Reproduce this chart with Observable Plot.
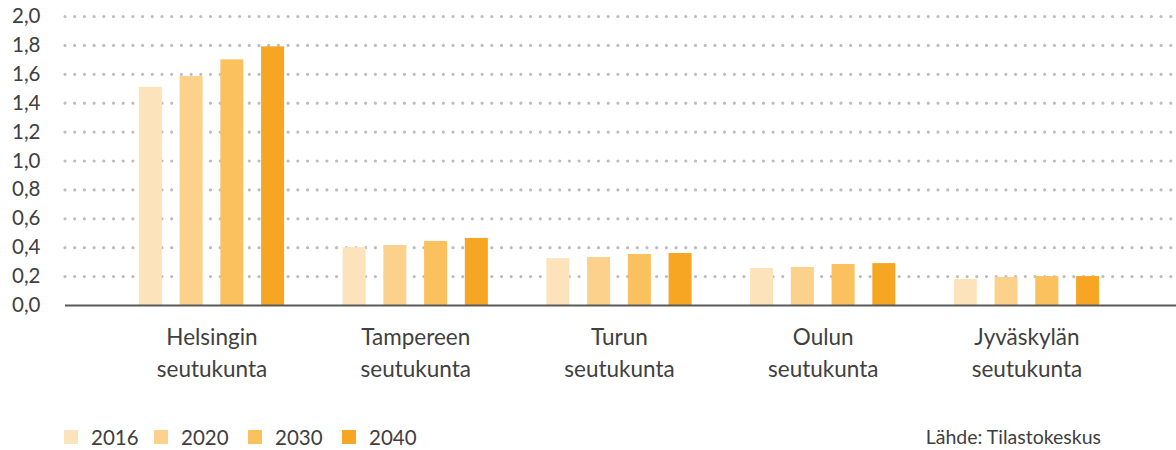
<!DOCTYPE html>
<html>
<head>
<meta charset="utf-8">
<script src="https://cdn.jsdelivr.net/npm/d3@7"></script>
<script src="https://cdn.jsdelivr.net/npm/@observablehq/plot@0.6"></script>
<style>
  html, body { margin: 0; padding: 0; background: #fff; }
  body { width: 1176px; height: 450px; overflow: hidden; font-family: Lato, "Open Sans", sans-serif; color: #404040; }
  #legend { position: relative; height: 50px; }
  .item { position: absolute; top: 25px; display: flex; align-items: center; font-size: 20.5px; line-height: 24px; }
  .sw { width: 14px; height: 14px; margin-right: 13px; }
  #source { position: absolute; right: 75px; top: 25px; font-size: 19.5px; line-height: 24px; }
</style>
</head>
<body>
<div id="chart"></div>
<div id="legend"></div>
<script>
const regionLine1 = ["Helsingin", "Tampereen", "Turun", "Oulun", "Jyväskylän"];
const regionLine2 = ["seutukunta", "seutukunta", "seutukunta", "seutukunta", "seutukunta"];
const years = ["2016", "2020", "2030", "2040"];
const v2016 = [1.51, 0.40, 0.325, 0.256, 0.18];
const v2020 = [1.585, 0.415, 0.332, 0.263, 0.194];
const v2030 = [1.70, 0.443, 0.353, 0.284, 0.20];
const v2040 = [1.79, 0.464, 0.36, 0.29, 0.20];
const colors = ["#fde3bb", "#fcd18c", "#fbc15e", "#f6a623"];
const yTicks = [0, 0.2, 0.4, 0.6, 0.8, 1.0, 1.2, 1.4, 1.6, 1.8, 2.0];
const sourceText = "Lähde: Tilastokeskus";

const series = [v2016, v2020, v2030, v2040];
const data = [];
series.forEach((vals, j) => vals.forEach((v, i) => {
  const c = i + (j - 1.5) * 0.2;
  data.push({region: i, year: years[j], x1: c - 0.0565, x2: c + 0.0565, value: v});
}));
const labels = regionLine1.map((l, i) => ({i, l1: l, l2: regionLine2[i]}));
const fmt = d => d.toFixed(1).replace(".", ",");

const plot = Plot.plot({
  width: 1176,
  height: 400,
  marginLeft: 65,
  marginRight: 0,
  marginTop: 16,
  marginBottom: 95,
  style: {fontFamily: "Lato, 'Open Sans', sans-serif", background: "#fff", overflow: "visible"},
  x: {domain: [-0.719, 4.734], axis: null},
  y: {domain: [0, 2], axis: null},
  color: {domain: years, range: colors},
  marks: [
    Plot.ruleY(yTicks.filter(d => d > 0), {stroke: "#bdbdbd", strokeWidth: 3.2, strokeLinecap: "round", strokeDasharray: "0 9.7"}),
    Plot.rectY(data, {x1: "x1", x2: "x2", y: "value", fill: "year"}),
    Plot.ruleY([0], {stroke: "#5a5a5a", strokeWidth: 2}),
    Plot.text(yTicks, {y: d => d, text: fmt, frameAnchor: "left", textAnchor: "end", dx: -25, fontSize: 20.5, fill: "#404040"}),
    Plot.text(labels, {x: "i", y: 0, text: "l1", dy: 32, fontSize: 22.5, fill: "#404040"}),
    Plot.text(labels, {x: "i", y: 0, text: "l2", dy: 64, fontSize: 22.5, fill: "#404040"})
  ]
});
document.getElementById("chart").appendChild(plot);

const legend = document.getElementById("legend");
const lefts = [64, 154, 248, 342];
years.forEach((y, j) => {
  const it = document.createElement("div");
  it.className = "item";
  it.style.left = lefts[j] + "px";
  it.innerHTML = `<span class="sw" style="background:${colors[j]}"></span><span>${y}</span>`;
  legend.appendChild(it);
});
const src = document.createElement("div");
src.id = "source";
src.textContent = sourceText;
legend.appendChild(src);
</script>
</body>
</html>
